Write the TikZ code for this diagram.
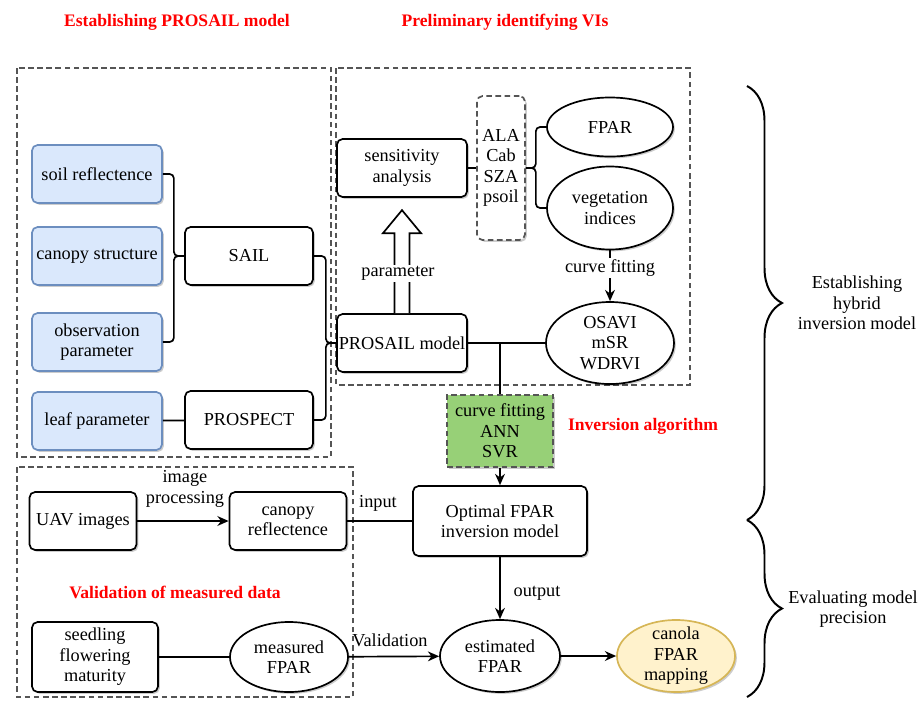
\documentclass[tikz,border=0pt]{standalone}
\usepackage{fontspec}
\setmainfont{Liberation Serif}
\usetikzlibrary{arrows.meta,calc,shapes.geometric,shadows,decorations.pathreplacing}
\definecolor{BlueClr}{rgb}{0.855,0.910,0.988}
\definecolor{BlueLine}{rgb}{0.424,0.557,0.749}
\definecolor{GreenClr}{rgb}{0.592,0.816,0.467}
\definecolor{YellowClr}{rgb}{1,0.949,0.800}
\definecolor{YellowLine}{rgb}{0.839,0.714,0.337}
\definecolor{DashClr}{rgb}{0.333,0.333,0.333}

\begin{document}
\begin{tikzpicture}[x=0.025cm,y=-0.025cm,line width=1.2pt,
  font=\fontsize{13}{14.5}\selectfont,
  shade/.style={drop shadow={shadow xshift=1.3pt,shadow yshift=-1.3pt,fill=black,opacity=0.2}},
  box/.style={draw,rounded corners=4pt,fill=white,align=center,inner sep=1pt,shade},
  std/.style={box,minimum width=3.25cm,minimum height=1.45cm},
  inbox/.style={std,fill=BlueClr,draw=BlueLine},
  oval/.style={draw,ellipse,fill=white,align=center,inner sep=0pt,shade},
  region/.style={draw=DashClr,dash pattern=on 4pt off 2.5pt},
  ttl/.style={text=red,font=\fontsize{12.5}{15}\selectfont\bfseries},
  lbl/.style={align=center,inner sep=1pt},
  link/.style={rounded corners=3pt},
  arr/.style={-{Stealth[length=8pt,width=7pt]}}]

\useasboundingbox (0,0) rectangle (923,700);

% dashed regions
\draw[region] (17,68) rectangle (331,457);
\draw[region] (336,68) rectangle (690,385);
\draw[region] (17,467) rectangle (353,697);

\node[ttl] (t1) at (177,22) {Establishing PROSAIL model};
\node[ttl] (t2) at (505,22) {Preliminary identifying VIs};
\node[ttl] (t3) at (643,426) {Inversion algorithm};
\node[ttl] (t4) at (175,592) {Validation of measured data};

\node[inbox] (soil) at (97,174) {soil reflectence};
\node[inbox] (canopy) at (97,256) {canopy structure};
\node[inbox] (obs) at (97,342) {observation\\parameter};
\node[inbox] (leaf) at (97,421) {leaf parameter};
\node[std,minimum width=3.2cm] (sail) at (249,256) {SAIL};
\node[std,minimum width=3.2cm] (prospect) at (249,420) {PROSPECT};

\node[std] (sens) at (402,168) {sensitivity\\analysis};
\node[std] (prosail) at (402,343) {PROSAIL model};
\node[box,region,minimum width=1.2cm,minimum height=3.6cm] (vars) at (501,168) {ALA\\Cab\\SZA\\psoil};
\node[oval,minimum width=3.15cm,minimum height=1.475cm] (fpar) at (610,127) {FPAR};
\node[oval,minimum width=3.15cm,minimum height=2.075cm] (veg) at (610,208) {vegetation\\indices};
\node[oval,minimum width=3.2cm,minimum height=2.05cm] (vis) at (610,343) {};
\node[lbl] (vistxt) at (vis) {OSAVI\\mSR\\WDRVI};

\node[box,region,rounded corners=0pt,fill=GreenClr,minimum width=2.65cm,minimum height=1.8cm] (algo) at (500,431) {curve fitting\\ANN\\SVR};
\node[box,minimum width=4.35cm,minimum height=1.75cm] (opt) at (500,521) {Optimal FPAR\\inversion model};

\node[box,minimum width=2.675cm,minimum height=1.45cm] (uav) at (83,521) {UAV images};
\node[box,minimum width=2.925cm,minimum height=1.45cm] (crefl) at (288,521) {canopy\\reflectence};
\node[box,minimum width=3.15cm,minimum height=1.75cm] (seed) at (95,657) {seedling\\flowering\\maturity};
\node[oval,minimum width=2.95cm,minimum height=1.75cm] (meas) at (289,657) {measured\\FPAR};
\node[oval,minimum width=3cm,minimum height=1.8cm] (est) at (500,656) {estimated\\FPAR};
\node[oval,fill=YellowClr,draw=YellowLine,minimum width=2.95cm,minimum height=1.8cm] (canola) at (676,656) {};
\node[lbl] (canolatxt) at (canola) {canola\\FPAR\\mapping};

% PROSAIL part
\draw[link] (soil.east) -- ++(11,0) |- (sail.west);
\draw[link] (obs.east) -- ++(11,0) |- (sail.west);
\draw (leaf) -- (prospect);
\draw[link] (sail.east) -- ++(12,0) |- (prosail.west);
\draw[link] (prospect.east) -- ++(12,0) |- (prosail.west);

% VIs part
\draw[fill=white] ($(prosail.north)+(-7.5,0)$) -- ++(0,-80) -- ++(-11.5,0)
  -- ($(prosail.north)+(0,-103)$) -- ++(19,23) -- ++(-11.5,0) -- ++(0,80);
\node[lbl,fill=white] (parlbl) at (398,273) {parameter};
\draw (sens) -- (vars);
\draw[link] (vars.east) -- ++(10,0) |- (fpar.west);
\draw[link] (vars.east) -- ++(10,0) |- (veg.west);
\draw[arr] (veg.south) -- (vis.north);
\node[lbl,fill=white] (fitlbl) at (610,268) {curve fitting};
\draw (prosail) -- (vis);

% inversion
\coordinate (jn) at (prosail.east -| algo.north);
\draw (jn) -- (algo.north);
\draw[arr] (algo.south) -- (opt.north);
\draw[arr] (uav) -- (crefl);
\node[lbl] (imgproc) at (185,489) {image\\processing};
\draw (crefl) -- (opt);
\node[lbl] (inlbl) at (378,503) {input};
\draw[arr] (opt) -- (est);
\node[lbl] (outlbl) at (537,593) {output};
\draw (seed) -- (meas);
\draw[arr] (meas) -- (est);
\node[lbl] (vallbl) at (390,640) {Validation};
\draw[arr] (est) -- (canola);

% braces
\coordinate (b1) at (747,86);
\coordinate (b2) at (747,520);
\coordinate (b3) at (747,697);
\draw[line width=1.4pt,decorate,decoration={brace,amplitude=0.875cm}] (b1) -- (b2);
\draw[line width=1.4pt,decorate,decoration={brace,amplitude=0.875cm}] (b2) -- (b3);
\node[lbl] (hybrid) at (857,303) {Establishing\\hybrid\\inversion model};
\node[lbl] (precis) at (853,609) {Evaluating model\\precision};
\end{tikzpicture}
\end{document}
